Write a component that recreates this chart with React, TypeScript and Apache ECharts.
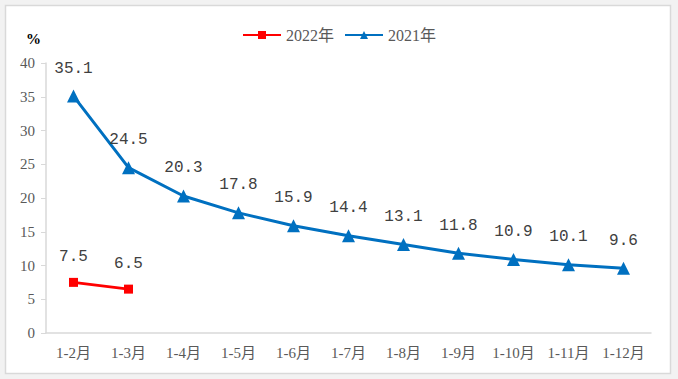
import React, { useEffect, useRef } from "react";
import * as echarts from "echarts";

const categories = ["1-2月", "1-3月", "1-4月", "1-5月", "1-6月", "1-7月", "1-8月", "1-9月", "1-10月", "1-11月", "1-12月"];
const values2022 = [7.5, 6.5];
const values2021 = [35.1, 24.5, 20.3, 17.8, 15.9, 14.4, 13.1, 11.8, 10.9, 10.1, 9.6];
const yTicks = { min: 0, max: 40, interval: 5 };

export default function App() {
  const ref = useRef<HTMLDivElement>(null);
  useEffect(() => {
    if (!ref.current) return;
    const chart = echarts.init(ref.current, null, { renderer: "svg" });
    const axisFont = "'Liberation Serif', 'Noto Sans CJK SC', serif";
    const labelFont = "'Liberation Mono', 'Noto Sans CJK SC', monospace";
    chart.setOption({
      animation: false,
      backgroundColor: "#f2f2f2",
      graphic: [
        {
          type: "rect",
          shape: { x: 5.5, y: 5.5, width: 665, height: 368 },
          style: { fill: "#ffffff", stroke: "#d9d9d9", lineWidth: 1.5 },
          z: -10,
        },
        {
          type: "text",
          left: 26,
          top: 31,
          style: { text: "%", font: "bold 15px 'Liberation Serif', serif", fill: "#000" },
        },
      ],
      legend: {
        top: 22,
        left: "center",
        itemWidth: 38,
        itemHeight: 10,
        itemGap: 10,
        textStyle: { fontFamily: axisFont, fontSize: 16, color: "#595959" },
        data: ["2022年", "2021年"],
      },
      grid: { left: 46, right: 27, top: 63, bottom: 46, containLabel: false },
      xAxis: {
        type: "category",
        data: categories,
        boundaryGap: true,
        axisLine: { lineStyle: { color: "#d9d9d9", width: 1.5 } },
        axisTick: { show: false },
        axisLabel: { interval: 0, fontFamily: axisFont, fontSize: 15, color: "#595959", margin: 12 },
      },
      yAxis: {
        type: "value",
        min: yTicks.min,
        max: yTicks.max,
        interval: yTicks.interval,
        splitLine: { show: false },
        axisLine: { show: true, lineStyle: { color: "#d9d9d9", width: 1.5 } },
        axisTick: { show: true, length: 5, lineStyle: { color: "#d9d9d9" } },
        axisLabel: { fontFamily: axisFont, fontSize: 15, color: "#595959", margin: 11 },
      },
      series: [
        {
          name: "2022年",
          type: "line",
          data: values2022,
          symbol: "rect",
          symbolSize: 9,
          itemStyle: { color: "#ff0000" },
          lineStyle: { color: "#ff0000", width: 3 },
          label: {
            show: true,
            position: "top",
            distance: 13,
            fontFamily: labelFont,
            fontSize: 16,
            color: "#404040",
          },
        },
        {
          name: "2021年",
          type: "line",
          data: values2021,
          symbol: "triangle",
          symbolSize: 13,
          itemStyle: { color: "#0070c0" },
          lineStyle: { color: "#0070c0", width: 3 },
          label: {
            show: true,
            position: "top",
            distance: 13,
            fontFamily: labelFont,
            fontSize: 16,
            color: "#404040",
          },
        },
      ],
    });
    return () => chart.dispose();
  }, []);
  return (
    <div
      ref={ref}
      style={{ position: "fixed", left: 0, top: 0, width: 678, height: 379 }}
    />
  );
}
